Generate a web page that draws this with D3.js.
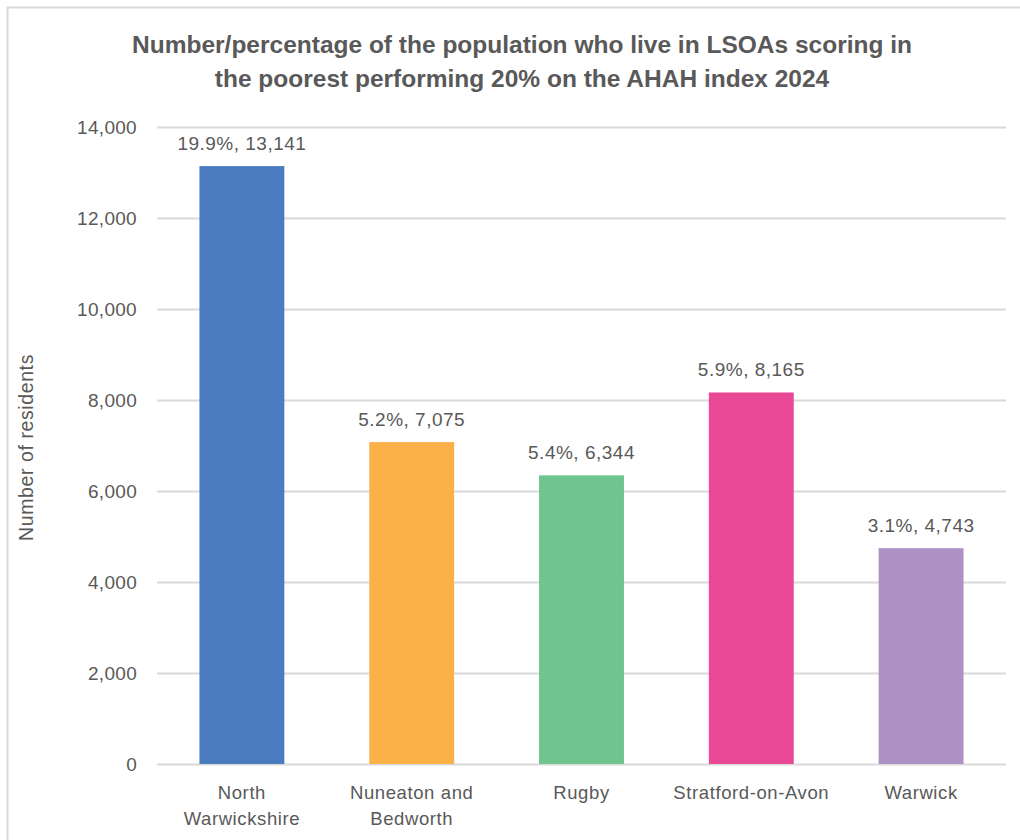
<!DOCTYPE html>
<html>
<head>
<meta charset="utf-8">
<script src="https://cdn.jsdelivr.net/npm/d3@7"></script>
<style>
  body { margin: 0; background: #fff; }
  svg { display: block; }
</style>
</head>
<body>
<svg id="svg" width="1020" height="840"></svg>
<script>
// data
var districts = ["North Warwickshire", "Nuneaton and Bedworth", "Rugby", "Stratford-on-Avon", "Warwick"];
var residents = [13141, 7075, 6344, 8165, 4743];
var percents = ["19.9%", "5.2%", "5.4%", "5.9%", "3.1%"];
var barColours = ["#4a7cbf", "#fbb148", "#70c48d", "#e84896", "#ad91c5"];
// category labels broken over two lines like the original
var labelLines = [["North", "Warwickshire"], ["Nuneaton and", "Bedworth"], ["Rugby"], ["Stratford-on-Avon"], ["Warwick"]];
var yTicks = [0, 2000, 4000, 6000, 8000, 10000, 12000, 14000];
var titleLines = ["Number/percentage of the population who live in LSOAs scoring in",
                  "the poorest performing 20% on the AHAH index 2024"];

var width = 1020;
var height = 840;
var margin = {top: 127, right: 14, bottom: 76, left: 157};
var textFont = "'Liberation Sans', Arial, sans-serif";
var grey = "#595959";

var svg = d3.select("#svg");

// outer frame like the screenshot edge
svg.append("rect")
    .attr("x", 7.5)
    .attr("y", 7.5)
    .attr("width", width + 10)
    .attr("height", height + 10)
    .attr("fill", "none")
    .attr("stroke", "#d9d9d9")
    .attr("stroke-width", 2);

var x = d3.scaleBand()
    .domain(districts)
    .range([margin.left, width - margin.right])
    .paddingInner(0.5)
    .paddingOuter(0.25);

var y = d3.scaleLinear()
    .domain([0, 14000])
    .range([height - margin.bottom, margin.top]);

// title
svg.append("g")
  .selectAll("text")
  .data(titleLines)
  .join("text")
    .attr("x", 522)
    .attr("y", (d, i) => 53 + i * 34)
    .attr("text-anchor", "middle")
    .attr("font-family", "'Liberation Sans Narrow', 'Arial Narrow', sans-serif")
    .attr("font-weight", "bold")
    .attr("font-size", 24.5)
    .attr("fill", grey)
    .text(d => d);

// gridlines + y axis
var yAxis = svg.append("g")
    .attr("transform", "translate(" + margin.left + ",0)")
    .call(d3.axisLeft(y)
      .tickValues(yTicks)
      .tickSize(-(width - margin.left - margin.right))
      .tickPadding(20)
      .tickFormat(d3.format(",")));

yAxis.select(".domain").remove();
yAxis.selectAll(".tick line")
    .attr("stroke", "#d9d9d9")
    .attr("stroke-width", 2);
yAxis.selectAll(".tick text")
    .attr("fill", grey)
    .attr("font-family", textFont)
    .attr("font-size", 19)
    .attr("letter-spacing", 0.3);

// bars
svg.append("g")
  .selectAll("rect")
  .data(districts)
  .join("rect")
    .attr("x", d => x(d))
    .attr("y", (d, i) => y(residents[i]))
    .attr("width", x.bandwidth())
    .attr("height", (d, i) => y(0) - y(residents[i]))
    .attr("fill", (d, i) => barColours[i]);

// data labels
svg.append("g")
  .selectAll("text")
  .data(districts)
  .join("text")
    .attr("x", d => x(d) + x.bandwidth() / 2)
    .attr("y", (d, i) => y(residents[i]) - 16)
    .attr("text-anchor", "middle")
    .attr("font-family", textFont)
    .attr("font-size", 19)
    .attr("letter-spacing", 0.5)
    .attr("fill", grey)
    .text((d, i) => percents[i] + ", " + d3.format(",")(residents[i]));

// category labels
var cats = svg.append("g")
  .selectAll("text")
  .data(districts)
  .join("text")
    .attr("x", d => x(d) + x.bandwidth() / 2)
    .attr("y", y(0) + 35)
    .attr("text-anchor", "middle")
    .attr("font-family", textFont)
    .attr("font-size", 18.5)
    .attr("letter-spacing", 0.6)
    .attr("fill", grey);

cats.selectAll("tspan")
  .data((d, i) => labelLines[i])
  .join("tspan")
    .attr("x", function() { return this.parentNode.getAttribute("x"); })
    .attr("dy", (d, i) => i == 0 ? 0 : 26)
    .text(d => d);

// y axis title
svg.append("text")
    .attr("transform", "translate(33," + ((margin.top + height - margin.bottom) / 2 + 2) + ") rotate(-90)")
    .attr("text-anchor", "middle")
    .attr("font-family", textFont)
    .attr("font-size", 19.5)
    .attr("letter-spacing", 0.6)
    .attr("fill", grey)
    .text("Number of residents");
</script>
</body>
</html>
